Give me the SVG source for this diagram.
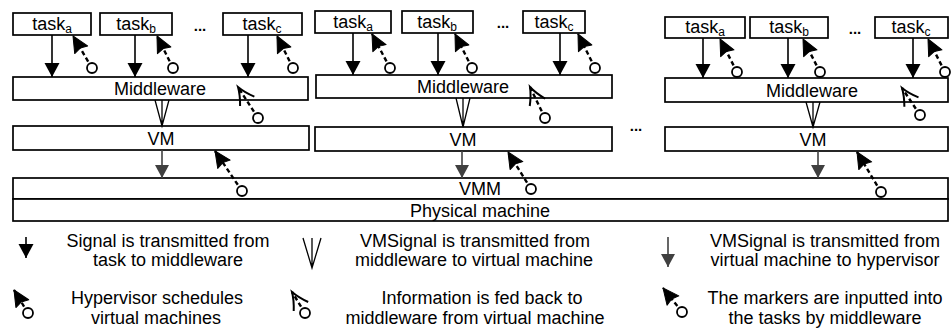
<svg xmlns="http://www.w3.org/2000/svg" width="951" height="336" viewBox="0 0 951 336">
<style>
.box{fill:#fff;stroke:#000;stroke-width:1.7}
.t{font-family:"Liberation Sans",Arial,sans-serif;font-size:18px;text-anchor:middle;fill:#000}
.sub{font-size:12px}
.dots{font-family:"Liberation Sans",Arial,sans-serif;font-size:15px;font-weight:bold;text-anchor:middle}
.sig{stroke:#000;stroke-width:1.6;fill:none;marker-end:url(#ah)}
.vms{stroke:#404040;stroke-width:1.6;fill:none;marker-end:url(#ahg)}
.sched{stroke:#000;stroke-width:2.4;stroke-dasharray:4.5 3;fill:none;marker-end:url(#ahs)}
.fb{stroke:#000;stroke-width:2.4;stroke-dasharray:4.5 3;fill:none;marker-end:url(#aho)}
.dot{fill:#fff;stroke:#000;stroke-width:1.8}
.v{fill:none;stroke:#000;stroke-width:1.3}
</style>
<defs>
<marker id="ah" markerUnits="userSpaceOnUse" markerWidth="1" markerHeight="1" refX="0" refY="0" orient="auto" overflow="visible"><path d="M0,0 L-14,-7.5 L-14,7.5 Z" fill="#000" stroke="none"/></marker>
<marker id="ahg" markerUnits="userSpaceOnUse" markerWidth="1" markerHeight="1" refX="0" refY="0" orient="auto" overflow="visible"><path d="M0,0 L-13,-7 L-13,7 Z" fill="#404040" stroke="none"/></marker>
<marker id="ahs" markerUnits="userSpaceOnUse" markerWidth="1" markerHeight="1" refX="0" refY="0" orient="auto" overflow="visible"><path d="M0,0 L-16,-7.5 L-14,0 L-16,7.5 Z" fill="#000" stroke="#000" stroke-width="1" stroke-linejoin="round" stroke-dasharray="none"/></marker>
<marker id="aho" markerUnits="userSpaceOnUse" markerWidth="1" markerHeight="1" refX="0" refY="0" orient="auto" overflow="visible"><path d="M-17,-8.5 Q-8,-2.5 0,0 Q-8,2.5 -17,8.5" fill="none" stroke="#000" stroke-width="2" stroke-dasharray="none"/></marker>
</defs>

<!-- Column 1 -->
<g id="c1-task-a"><rect class="box" x="13" y="13" width="78" height="22"/><text class="t" x="52" y="30">task<tspan class="sub" dy="3">a</tspan></text></g>
<g id="c1-task-b"><rect class="box" x="100" y="13" width="72" height="22"/><text class="t" x="136" y="30">task<tspan class="sub" dy="3">b</tspan></text></g>
<g id="c1-task-c"><rect class="box" x="223" y="13" width="79" height="22"/><text class="t" x="262" y="30">task<tspan class="sub" dy="3">c</tspan></text></g>
<text class="dots" x="200" y="31">...</text>
<g id="c1-middleware"><rect class="box" x="13" y="77" width="295" height="23"/><text class="t" x="160" y="95">Middleware</text></g>
<g id="c1-vm"><rect class="box" x="13" y="126" width="296" height="24"/><text class="t" x="161" y="144.5">VM</text></g>

<!-- Column 2 -->
<g id="c2-task-a"><rect class="box" x="315" y="11" width="76" height="22"/><text class="t" x="353" y="28">task<tspan class="sub" dy="3">a</tspan></text></g>
<g id="c2-task-b"><rect class="box" x="402" y="11" width="71" height="22"/><text class="t" x="437" y="28">task<tspan class="sub" dy="3">b</tspan></text></g>
<g id="c2-task-c"><rect class="box" x="523" y="11" width="62" height="22"/><text class="t" x="554" y="28">task<tspan class="sub" dy="3">c</tspan></text></g>
<text class="dots" x="503" y="28">...</text>
<g id="c2-middleware"><rect class="box" x="316" y="75" width="296" height="23"/><text class="t" x="463" y="93">Middleware</text></g>
<g id="c2-vm"><rect class="box" x="315" y="127" width="297" height="24"/><text class="t" x="463" y="145.5">VM</text></g>

<text class="dots" x="636" y="131">...</text>

<!-- Column 3 -->
<g id="c3-task-a"><rect class="box" x="665" y="17" width="80" height="21"/><text class="t" x="705" y="33">task<tspan class="sub" dy="3">a</tspan></text></g>
<g id="c3-task-b"><rect class="box" x="750" y="17" width="78" height="21"/><text class="t" x="789" y="33">task<tspan class="sub" dy="3">b</tspan></text></g>
<g id="c3-task-c"><rect class="box" x="875" y="17" width="73" height="21"/><text class="t" x="911" y="33">task<tspan class="sub" dy="3">c</tspan></text></g>
<text class="dots" x="855" y="34">...</text>
<g id="c3-middleware"><rect class="box" x="665" y="78" width="283" height="24"/><text class="t" x="812" y="96.5">Middleware</text></g>
<g id="c3-vm"><rect class="box" x="665" y="127" width="283" height="24"/><text class="t" x="813" y="145.5">VM</text></g>

<!-- Shared layers -->
<g id="vmm"><rect class="box" x="13" y="178" width="935" height="21"/><text class="t" x="480" y="195">VMM</text></g>
<g id="physical-machine"><rect class="box" x="13" y="199" width="935" height="22"/><text class="t" x="480" y="216.5">Physical machine</text></g>

<g id="connectors">
<!-- task to middleware signals -->
<line class="sig" x1="52" y1="35" x2="52" y2="77"/>
<line class="sig" x1="135" y1="35" x2="135" y2="77"/>
<line class="sig" x1="248" y1="35" x2="248" y2="77"/>
<line class="sig" x1="353" y1="33" x2="353" y2="75"/>
<line class="sig" x1="438" y1="33" x2="438" y2="75"/>
<line class="sig" x1="560" y1="33" x2="560" y2="75"/>
<line class="sig" x1="703" y1="38" x2="703" y2="78"/>
<line class="sig" x1="788" y1="38" x2="788" y2="78"/>
<line class="sig" x1="913" y1="38" x2="913" y2="78"/>
<!-- markers into tasks -->
<line class="sched" x1="92" y1="68" x2="73" y2="36"/><circle class="dot" cx="92" cy="68" r="5"/>
<line class="sched" x1="173" y1="68" x2="157" y2="36"/><circle class="dot" cx="173" cy="68" r="5"/>
<line class="sched" x1="293" y1="68" x2="277" y2="36"/><circle class="dot" cx="293" cy="68" r="5"/>
<line class="sched" x1="390" y1="68" x2="372" y2="34"/><circle class="dot" cx="390" cy="68" r="5"/>
<line class="sched" x1="472" y1="68" x2="455" y2="34"/><circle class="dot" cx="472" cy="68" r="5"/>
<line class="sched" x1="595" y1="68" x2="578" y2="34"/><circle class="dot" cx="595" cy="68" r="5"/>
<line class="sched" x1="737" y1="72" x2="720" y2="39"/><circle class="dot" cx="737" cy="72" r="5"/>
<line class="sched" x1="820" y1="72" x2="803" y2="39"/><circle class="dot" cx="820" cy="72" r="5"/>
<line class="sched" x1="945" y1="72" x2="928" y2="39"/><circle class="dot" cx="945" cy="72" r="5"/>
<!-- feedback to middleware -->
<line class="fb" x1="258" y1="118" x2="238" y2="87"/><circle class="dot" cx="258" cy="118" r="5"/>
<line class="fb" x1="545" y1="118" x2="530" y2="87"/><circle class="dot" cx="545" cy="118" r="5"/>
<line class="fb" x1="920" y1="115" x2="902" y2="88"/><circle class="dot" cx="920" cy="115" r="5"/>
<!-- VMSignal middleware to VM -->
<path class="v" d="M155,100 L162,126 L169,100 M162,100 V126"/>
<path class="v" d="M456,98 L463,127 L470,98 M463,98 V127"/>
<path class="v" d="M806,102 L813,127 L820,102 M813,102 V127"/>
<!-- VMSignal VM to hypervisor -->
<line class="vms" x1="162" y1="150" x2="162" y2="178"/>
<line class="vms" x1="462" y1="151" x2="462" y2="178"/>
<line class="vms" x1="818" y1="151" x2="818" y2="178"/>
<!-- hypervisor schedules VMs -->
<line class="sched" x1="242" y1="191" x2="215" y2="151"/><circle class="dot" cx="242" cy="191" r="5"/>
<line class="sched" x1="531" y1="189" x2="508" y2="152"/><circle class="dot" cx="531" cy="189" r="5"/>
<line class="sched" x1="881" y1="192" x2="857" y2="152"/><circle class="dot" cx="881" cy="192" r="5"/>
</g>

<g id="legend">
<line class="sig" x1="26" y1="237" x2="26" y2="258"/>
<text class="t" x="168" y="247">Signal is transmitted from</text>
<text class="t" x="168" y="266">task to middleware</text>
<path class="v" d="M303,238 L312,268 L321,238 M312,238 V268"/>
<text class="t" x="475" y="247">VMSignal is transmitted from</text>
<text class="t" x="474" y="266">middleware to virtual machine</text>
<line class="vms" x1="668" y1="237" x2="668" y2="267"/>
<text class="t" x="825" y="247">VMSignal is transmitted from</text>
<text class="t" x="825" y="266">virtual machine to hypervisor</text>
<line class="sched" x1="28" y1="313" x2="14" y2="290"/><circle class="dot" cx="28" cy="313" r="5"/>
<text class="t" x="157" y="304">Hypervisor schedules</text>
<text class="t" x="156" y="324">virtual machines</text>
<line class="fb" x1="305" y1="313" x2="292" y2="292"/><circle class="dot" cx="305" cy="313" r="5"/>
<text class="t" x="482" y="304">Information is fed back to</text>
<text class="t" x="475" y="324">middleware from virtual machine</text>
<line class="sched" x1="682" y1="312" x2="663" y2="288"/><circle class="dot" cx="682" cy="312" r="5"/>
<text class="t" x="825" y="304">The markers are inputted into</text>
<text class="t" x="825" y="324">the tasks by middleware</text>
</g>
</svg>
